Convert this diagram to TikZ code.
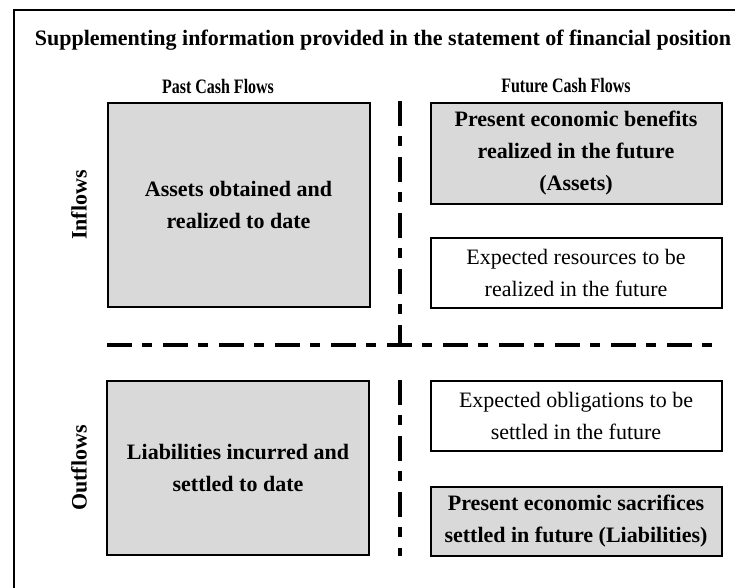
\documentclass[tikz,border=0pt]{standalone}
\usepackage{fontspec}
\setmainfont{Liberation Serif}
\newfontfamily\narrowhead[FakeStretch=0.78]{Liberation Serif Bold}
\usetikzlibrary{positioning}
\tikzset{
	every text node part/.style= {
		align=center
	},
	heading/.style= {
		font=\fontsize{22}{26}\selectfont\bfseries
	},
	colhead/.style= {
		font=\fontsize{20.5}{24}\narrowhead
	},
	sidelabel/.style= {
		heading,
		rotate=90
	},
	shaded/.style= {
		rectangle,
		draw,
		line width=2pt,
		fill=black!15,
		inner sep=0pt,
		font=\fontsize{22}{32}\selectfont\bfseries
	},
	plainbox/.style= {
		rectangle,
		draw,
		line width=2pt,
		fill=white,
		inner sep=0pt,
		font=\fontsize{22}{32}\selectfont
	},
	divider/.style= {
		line width=4pt,
		dash pattern=on 25pt off 10pt on 10pt off 11pt
	},
}

\begin{document}
\begin{tikzpicture}[x=1pt, y=-1pt]
		\useasboundingbox (0,0) rectangle (735,587);
		\clip (0,0) rectangle (735,587);
		\draw[line width=2.5pt] (14,10) rectangle (760,610);

		\node (title) [heading] at (383,40) {Supplementing information provided in the statement of financial position};
		\node (past) [colhead] at (218,86) {Past Cash Flows};
		\node (future) [colhead] at (566,86) {Future Cash Flows};
		\node (inflows) [sidelabel] at (79,205) {Inflows};
		\node (outflows) [sidelabel] at (79,468) {Outflows};

		\node (assets) [shaded, minimum width=262pt, minimum height=204pt] at (238.5,204.5) {Assets obtained and\\realized to date};
		\node (benefits) [shaded, minimum width=291pt, minimum height=101pt] at (576,153) {Present economic benefits\\realized in the future\\(Assets)};
		\node (resources) [plainbox, minimum width=291pt, minimum height=70pt] at (576,273) {Expected resources to be\\realized in the future};

		\node (liabilities) [shaded, minimum width=262pt, minimum height=174pt] at (238,468) {Liabilities incurred and\\settled to date};
		\node (obligations) [plainbox, minimum width=291pt, minimum height=70pt] at (576,416) {Expected obligations to be\\settled in the future};
		\node (sacrifices) [shaded, minimum width=291pt, minimum height=69pt] at (576,521) {Present economic sacrifices\\settled in future (Liabilities)};

		\coordinate (vtop) at (400,101);
		\coordinate (cross) at (400,345);
		\coordinate (hstart) at (107,345);
		\coordinate (hend) at (713,345);
		\coordinate (vlow) at (400,380);
		\coordinate (vbot) at (400,556);
		\draw[divider] (vtop) -- (cross);
		\draw[divider] (hstart) -- (hend);
		\draw[divider] (vlow) -- (vbot);
	\end{tikzpicture}
\end{document}
